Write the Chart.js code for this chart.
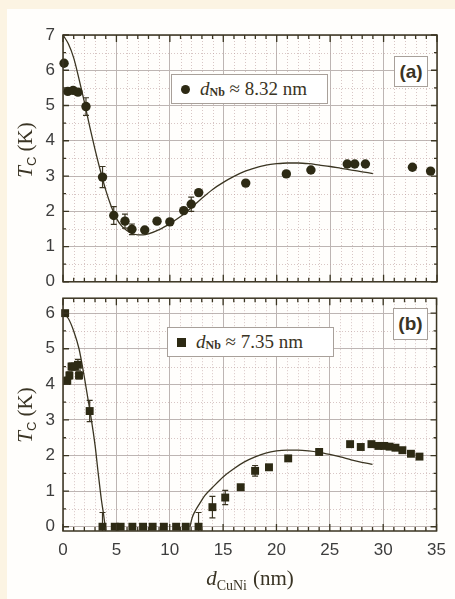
<!DOCTYPE html>
<html lang="en">
<head>
  <meta charset="UTF-8" />
  <title>Tc vs dCuNi</title>
  <script src="https://cdn.jsdelivr.net/npm/chart.js"></script>
  <style>
    * {
      box-sizing: border-box;
      margin: 0;
      padding: 0;
    }

    body {
      width: 455px;
      height: 599px;
      position: relative;
      overflow: hidden;
      background: #fcf4e3;
      font-family: 'Liberation Sans', Arial, sans-serif;
      color: #3a3424;
    }

    .sheet {
      position: absolute;
      left: 7px;
      top: 9px;
      right: 0;
      bottom: 0;
      background: #fffefc;
    }

    canvas {
      position: absolute;
      left: 0;
    }

    #chartA { top: 0; }
    #chartB { top: 280px; }

    .legend {
      position: absolute;
      background: #fff;
      border: 1px solid #a8a09a;
      font-family: 'Liberation Serif', 'Times New Roman', serif;
      font-size: 19px;
      display: flex;
      align-items: center;
      white-space: nowrap;
      padding-left: 9px;
    }

    .legend .mk {
      display: inline-block;
      width: 9px;
      height: 9px;
      background: #2d2a14;
      margin-right: 10px;
    }

    .legend .dot { border-radius: 50%; }

    .legend sub, .ytitle sub, .xtitle sub {
      font-size: 12px;
      position: relative;
      top: 3px;
      vertical-align: baseline;
    }

    .legend sub { font-weight: bold; }

    .tag {
      position: absolute;
      background: #fff;
      border: 1px solid #a8a09a;
      font-weight: bold;
      font-size: 19px;
      text-align: center;
      line-height: 29px;
    }

    .ytitle {
      position: absolute;
      font-family: 'Liberation Serif', 'Times New Roman', serif;
      font-size: 21px;
      white-space: nowrap;
      transform: translate(-50%, -50%) rotate(-90deg);
    }

    .ytitle sub {
      font-family: 'Liberation Sans', Arial, sans-serif;
      font-size: 13px;
      top: 4px;
    }

    .xtitle {
      position: absolute;
      left: 250px;
      top: 578px;
      font-family: 'Liberation Serif', 'Times New Roman', serif;
      font-size: 21px;
      white-space: nowrap;
      transform: translate(-50%, -50%);
    }

    .xtitle sub {
      font-size: 14px;
      top: 5px;
      margin-right: 6px;
    }
  </style>
</head>
<body>

<div class="sheet"></div>
<canvas id="chartA" width="455" height="300"></canvas>
<canvas id="chartB" width="455" height="319"></canvas>

<div class="legend" style="left:171px; top:74px; width:157px; height:30px;">
  <span class="mk dot"></span><i>d</i><sub>Nb</sub>&nbsp;≈ 8.32 nm
</div>
<div class="legend" style="left:167px; top:327px; width:167px; height:30px;">
  <span class="mk"></span><i>d</i><sub>Nb</sub>&nbsp;≈ 7.35 nm
</div>
<div class="tag" style="left:394px; top:56px; width:34px; height:31px;">(a)</div>
<div class="tag" style="left:393px; top:308px; width:35px; height:32px;">(b)</div>

<div class="ytitle" style="left:25px; top:150px;"><i>T</i><sub>C</sub> (K)</div>
<div class="ytitle" style="left:25px; top:415px;"><i>T</i><sub>C</sub> (K)</div>
<div class="xtitle"><i>d</i><sub>CuNi</sub>(nm)</div>

<script>
  // panel (a): d_Nb = 8.32 nm, circles
  const xA = [0.1, 0.45, 0.95, 1.4, 2.15, 3.7, 4.75, 5.8, 6.45, 7.65, 8.8, 10.0, 11.3, 12.0, 12.7, 17.1, 20.9, 23.2, 26.6, 27.3, 28.3, 32.7, 34.4];
  const tcA = [6.2, 5.4, 5.43, 5.38, 4.97, 2.97, 1.88, 1.72, 1.49, 1.47, 1.72, 1.7, 2.02, 2.2, 2.53, 2.8, 3.06, 3.17, 3.34, 3.34, 3.34, 3.25, 3.14];
  const errA = [0, 0, 0, 0, 0.25, 0.3, 0.25, 0.2, 0.15, 0, 0, 0, 0, 0.2, 0, 0, 0, 0, 0, 0, 0, 0, 0];

  const fitXA = [0, 0.5, 1, 1.5, 2, 2.5, 3, 3.5, 4, 4.5, 5, 5.5, 6, 6.5, 7, 7.5, 8, 9, 10, 11, 12, 13, 14, 15, 16, 17, 18, 19, 20, 21, 22, 23, 24, 25, 26, 27, 28, 29];
  const fitYA = [7.0, 6.75, 6.35, 5.75, 5.1, 4.4, 3.75, 3.15, 2.6, 2.15, 1.8, 1.58, 1.45, 1.37, 1.33, 1.33, 1.36, 1.48, 1.65, 1.85, 2.1, 2.37, 2.62, 2.82, 2.99, 3.13, 3.23, 3.31, 3.35, 3.37, 3.37, 3.35, 3.31, 3.27, 3.22, 3.17, 3.12, 3.07];

  // panel (b): d_Nb = 7.35 nm, squares
  const xB = [0.2, 0.4, 0.6, 0.8, 1.1, 1.4, 1.5, 2.5, 3.7, 4.85, 5.4, 6.5, 7.5, 8.4, 9.45, 10.6, 11.5, 12.7, 14.0, 15.2, 16.65, 18.0, 19.3, 21.1, 24.0, 26.9, 27.9, 28.9, 29.55, 30.1, 30.6, 31.15, 31.8, 32.6, 33.4];
  const tcB = [6.0, 4.1, 4.25, 4.5, 4.5, 4.55, 4.25, 3.25, 0, 0, 0, 0, 0, 0, 0, 0, 0, 0, 0.55, 0.82, 1.11, 1.57, 1.67, 1.92, 2.1, 2.32, 2.24, 2.32, 2.27, 2.27, 2.25, 2.22, 2.15, 2.05, 1.97];
  const errB = [0, 0.1, 0.1, 0.1, 0.1, 0.15, 0.1, 0.3, 0.4, 0, 0, 0, 0, 0, 0, 0, 0, 0.4, 0.3, 0.2, 0, 0.15, 0, 0, 0, 0, 0, 0, 0, 0, 0, 0, 0, 0, 0];

  const fitXB1 = [0, 0.5, 1, 1.5, 2, 2.5, 3, 3.3, 3.6, 3.8, 3.95];
  const fitYB1 = [6.0, 5.85, 5.5, 5.0, 4.2, 3.3, 2.3, 1.5, 0.75, 0.35, 0];
  const fitXB2 = [11.9, 12.1, 12.4, 12.8, 13.3, 14, 15, 16, 17, 18, 19, 20, 21, 22, 23, 24, 25, 26, 27, 28, 29];
  const fitYB2 = [0, 0.25, 0.45, 0.65, 0.88, 1.1, 1.4, 1.63, 1.82, 1.96, 2.07, 2.13, 2.15, 2.15, 2.13, 2.09, 2.03, 1.96, 1.88, 1.81, 1.75];

  const xTicks = [0, 5, 10, 15, 20, 25, 30, 35];
  const yTicksA = [0, 1, 2, 3, 4, 5, 6, 7];
  const yTicksB = [0, 1, 2, 3, 4, 5, 6];

  const ink = '#2d2a14';
  const lineInk = '#3b3522';

  const pts = (xs, ys) => xs.map((x, i) => ({ x: x, y: ys[i] }));

  // dotted minor grid + error bars under the markers
  const underlay = {
    id: 'underlay',
    beforeDatasetsDraw(chart) {
      const { ctx, chartArea: a, scales: { x, y } } = chart;
      ctx.save();
      ctx.strokeStyle = 'rgba(190, 160, 160, 0.6)';
      ctx.lineWidth = 1;
      ctx.setLineDash([1, 2]);
      ctx.beginPath();
      for (let v = Math.ceil(x.min); v <= x.max; v++) {
        if (v % 5 === 0) continue;
        const px = Math.round(x.getPixelForValue(v)) + 0.5;
        ctx.moveTo(px, a.top); ctx.lineTo(px, a.bottom);
      }
      for (let v = Math.ceil(y.min) + 0.5; v < y.max; v++) {
        const py = Math.round(y.getPixelForValue(v)) + 0.5;
        ctx.moveTo(a.left, py); ctx.lineTo(a.right, py);
      }
      ctx.stroke();
      ctx.setLineDash([]);

      ctx.beginPath();
      ctx.rect(a.left, a.top, a.right - a.left, a.bottom - a.top);
      ctx.clip();
      const err = chart.options.plugins.underlay.err;
      const ds = chart.data.datasets[0].data;
      ctx.strokeStyle = lineInk;
      ctx.lineWidth = 1.2;
      ctx.beginPath();
      ds.forEach((p, i) => {
        if (!err[i]) return;
        const px = x.getPixelForValue(p.x);
        const y1 = y.getPixelForValue(p.y - err[i]);
        const y2 = y.getPixelForValue(p.y + err[i]);
        ctx.moveTo(px, y1); ctx.lineTo(px, y2);
        ctx.moveTo(px - 3, y1); ctx.lineTo(px + 3, y1);
        ctx.moveTo(px - 3, y2); ctx.lineTo(px + 3, y2);
      });
      ctx.stroke();
      ctx.restore();
    }
  };

  // frame with inward ticks on all four sides
  const frame = {
    id: 'frame',
    afterDatasetsDraw(chart) {
      const { ctx, chartArea: a, scales: { x, y } } = chart;
      ctx.save();
      ctx.strokeStyle = lineInk;
      ctx.lineWidth = 1.5;
      ctx.strokeRect(a.left, a.top, a.right - a.left, a.bottom - a.top);
      ctx.lineWidth = 1.3;
      ctx.beginPath();
      for (let v = Math.ceil(x.min); v <= x.max; v++) {
        const px = x.getPixelForValue(v);
        const len = v % 5 === 0 ? 7 : 4;
        ctx.moveTo(px, a.bottom); ctx.lineTo(px, a.bottom - len);
        ctx.moveTo(px, a.top); ctx.lineTo(px, a.top + len);
      }
      for (let v = Math.ceil(y.min * 2) / 2; v <= y.max; v += 0.5) {
        const py = y.getPixelForValue(v);
        const len = Number.isInteger(v) ? 6 : 3;
        ctx.moveTo(a.left, py); ctx.lineTo(a.left + len, py);
        ctx.moveTo(a.right, py); ctx.lineTo(a.right - len, py);
      }
      ctx.stroke();
      ctx.restore();
    }
  };

  function makeChart(id, cfg) {
    return new Chart(document.getElementById(id), {
      type: 'scatter',
      data: { datasets: cfg.datasets },
      options: {
        responsive: false,
        animation: false,
        layout: { padding: { left: 0, right: 18, top: cfg.top, bottom: 0 } },
        plugins: {
          legend: { display: false },
          tooltip: { enabled: false },
          underlay: { err: cfg.err }
        },
        scales: {
          x: {
            type: 'linear',
            min: 0,
            max: 35,
            afterBuildTicks: s => { s.ticks = xTicks.map(v => ({ value: v })); },
            afterFit: s => { s.height = cfg.xHeight; },
            border: { display: false },
            grid: { color: '#bdb5b3', lineWidth: 1, drawTicks: false },
            ticks: {
              display: cfg.xLabels,
              padding: 9,
              color: '#3d3d3d',
              font: { family: 'Liberation Sans', size: 17 }
            }
          },
          y: {
            min: cfg.yMin,
            max: cfg.yMax,
            afterBuildTicks: s => { s.ticks = cfg.yTicks.map(v => ({ value: v })); },
            afterFit: s => { s.width = 63; },
            border: { display: false },
            grid: { color: '#bdb5b3', lineWidth: 1, drawTicks: false },
            ticks: {
              padding: 8,
              color: '#3d3d3d',
              font: { family: 'Liberation Sans', size: 17 }
            }
          }
        }
      },
      plugins: [underlay, frame]
    });
  }

  const markerStyle = {
    backgroundColor: ink,
    borderColor: ink,
    borderWidth: 0,
    clip: false
  };
  const curveStyle = {
    showLine: true,
    pointRadius: 0,
    borderColor: lineInk,
    borderWidth: 1.3,
    cubicInterpolationMode: 'monotone',
    fill: false
  };

  makeChart('chartA', {
    top: 35,
    xHeight: 14,
    xLabels: false,
    yMin: 0,
    yMax: 7,
    yTicks: yTicksA,
    err: errA,
    datasets: [
      Object.assign({ data: pts(xA, tcA), pointStyle: 'circle', pointRadius: 4.7 }, markerStyle),
      Object.assign({ data: pts(fitXA, fitYA) }, curveStyle)
    ]
  });

  makeChart('chartB', {
    top: 6,
    xHeight: 68,
    xLabels: true,
    yMin: -0.12,
    yMax: 6.42,
    yTicks: yTicksB,
    err: errB,
    datasets: [
      Object.assign({ data: pts(xB, tcB), pointStyle: 'rect', pointRadius: 5.6 }, markerStyle),
      Object.assign({ data: pts(fitXB1, fitYB1) }, curveStyle),
      Object.assign({ data: pts(fitXB2, fitYB2) }, curveStyle)
    ]
  });
</script>

</body>
</html>
